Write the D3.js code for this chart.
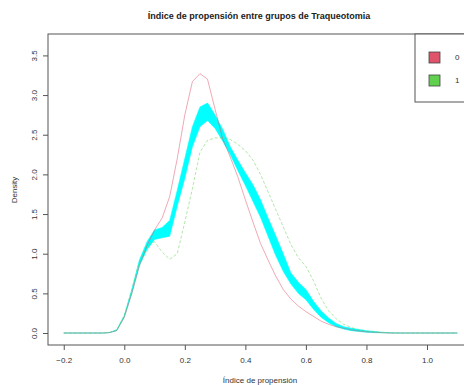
<!DOCTYPE html>
<html>
<head>
<meta charset="utf-8">
<script src="https://cdn.jsdelivr.net/npm/d3@7"></script>
<style>
  body { margin: 0; background: #fff; }
  svg { font-family: "Liberation Sans", Arial, sans-serif; }
</style>
</head>
<body>
<div id="chart"></div>
<script>
// puntos de evaluacion de la densidad (paso 0.025)
const evalPoints = d3.range(53).map(i => +(-0.2 + i * 0.025).toFixed(3));

// grupo 0 (rojo, continuo)
const dens0 = [0, 0, 0, 0, 0, 0, 0.005, 0.03, 0.2, 0.5, 0.85, 1.1, 1.3, 1.45, 1.72, 2.2, 2.75,
  3.17, 3.27, 3.2, 2.82, 2.45, 2.22, 1.97, 1.68, 1.4, 1.13, 0.92, 0.72, 0.55, 0.43, 0.34,
  0.27, 0.21, 0.15, 0.11, 0.08, 0.06, 0.04, 0.025, 0.015, 0.01, 0.005, 0, 0, 0, 0, 0, 0, 0, 0, 0, 0];

// grupo 1 (verde, discontinuo)
const dens1 = [0, 0, 0, 0, 0, 0, 0.005, 0.04, 0.22, 0.55, 0.9, 1.1, 1.15, 1.02, 0.93, 1.0, 1.4,
  1.82, 2.28, 2.43, 2.46, 2.46, 2.44, 2.38, 2.3, 2.18, 2.0, 1.78, 1.56, 1.34, 1.12, 0.95,
  0.84, 0.66, 0.44, 0.28, 0.18, 0.11, 0.07, 0.04, 0.025, 0.015, 0.008, 0.004, 0, 0, 0, 0, 0, 0, 0, 0, 0];

// banda de referencia (cian)
const bandUpper = [0, 0, 0, 0, 0, 0, 0.005, 0.04, 0.22, 0.55, 0.92, 1.15, 1.3, 1.33, 1.42, 1.8, 2.2,
  2.6, 2.85, 2.9, 2.75, 2.57, 2.35, 2.18, 2.02, 1.87, 1.68, 1.45, 1.23, 1.0, 0.76, 0.64,
  0.55, 0.4, 0.28, 0.19, 0.12, 0.08, 0.06, 0.045, 0.03, 0.02, 0.01, 0.005, 0, 0, 0, 0, 0, 0, 0, 0, 0];
const bandLower = [0, 0, 0, 0, 0, 0, 0.005, 0.03, 0.2, 0.5, 0.85, 1.05, 1.18, 1.2, 1.22, 1.6, 1.95,
  2.35, 2.6, 2.68, 2.58, 2.42, 2.25, 2.05, 1.86, 1.66, 1.46, 1.22, 0.98, 0.78, 0.62, 0.5,
  0.42, 0.3, 0.2, 0.13, 0.08, 0.05, 0.03, 0.02, 0.01, 0.005, 0.003, 0, 0, 0, 0, 0, 0, 0, 0, 0, 0];

const xTicks = [-0.2, 0.0, 0.2, 0.4, 0.6, 0.8, 1.0];
const yTicks = [0, 0.5, 1, 1.5, 2, 2.5, 3, 3.5];
const groups = ['0', '1'];
const groupColors = ['#DF536B', '#61D04F'];

const width = 464, height = 385;
const margin = { top: 34, right: -9, bottom: 40, left: 48 };

const svg = d3.select('#chart').append('svg')
  .attr('width', width)
  .attr('height', height);

const x = d3.scaleLinear()
  .domain([-0.252, 1.152])
  .range([margin.left, width - margin.right]);

const y = d3.scaleLinear()
  .domain([-0.151, 3.77])
  .range([height - margin.bottom, margin.top]);

// banda
const band = evalPoints.map((p, i) => ({ p, lo: bandLower[i], hi: bandUpper[i] }));
svg.append('path')
  .datum(band)
  .attr('fill', '#00FFFF')
  .attr('stroke', '#00FFFF')
  .attr('stroke-width', 0.6)
  .attr('d', d3.area().x(d => x(d.p)).y0(d => y(d.lo)).y1(d => y(d.hi)));

// lineas de densidad
const line = d3.line().x(d => x(d[0])).y(d => y(d[1]));

svg.append('path')
  .datum(evalPoints.map((p, i) => [p, dens0[i]]))
  .attr('fill', 'none')
  .attr('stroke', groupColors[0])
  .attr('stroke-opacity', 0.5)
  .attr('stroke-width', 1)
  .attr('d', line);

svg.append('path')
  .datum(evalPoints.map((p, i) => [p, dens1[i]]))
  .attr('fill', 'none')
  .attr('stroke', groupColors[1])
  .attr('stroke-opacity', 0.5)
  .attr('stroke-width', 1)
  .attr('stroke-dasharray', '3,2')
  .attr('d', line);

// ejes
const xAxis = svg.append('g')
  .attr('transform', `translate(0,${height - margin.bottom})`)
  .call(d3.axisBottom(x).tickValues(xTicks).tickFormat(d3.format('.1f')).tickSize(5).tickSizeOuter(0));

const yAxis = svg.append('g')
  .attr('transform', `translate(${margin.left},0)`)
  .call(d3.axisLeft(y).tickValues(yTicks).tickFormat(d3.format('.1f')).tickSize(5).tickSizeOuter(0));

[xAxis, yAxis].forEach(a => {
  a.select('.domain').remove();
  a.selectAll('line').attr('stroke', '#555');
  a.selectAll('text').attr('fill', '#333').style('font-size', '8px');
});
xAxis.selectAll('text').attr('dy', '1.25em');
yAxis.selectAll('text')
  .attr('text-anchor', 'middle')
  .attr('x', 0)
  .attr('y', 0)
  .attr('dy', '0.32em')
  .attr('transform', 'translate(-14,0) rotate(-90)');

// caja del grafico
svg.append('rect')
  .attr('x', margin.left)
  .attr('y', margin.top)
  .attr('width', x.range()[1] - margin.left)
  .attr('height', y.range()[0] - margin.top)
  .attr('fill', 'none')
  .attr('stroke', '#555');

// titulos
svg.append('text')
  .attr('x', 259)
  .attr('y', 19)
  .attr('text-anchor', 'middle')
  .style('font-size', '9px')
  .style('font-weight', 'bold')
  .attr('fill', '#222')
  .text('Índice de propensión entre grupos de Traqueotomia');

svg.append('text')
  .attr('x', 260)
  .attr('y', 383)
  .attr('text-anchor', 'middle')
  .style('font-size', '8px')
  .attr('fill', '#333')
  .text('Índice de propensión');

svg.append('text')
  .attr('transform', 'translate(17,190) rotate(-90)')
  .attr('text-anchor', 'middle')
  .style('font-size', '8px')
  .attr('fill', '#333')
  .text('Density');

// leyenda
const legend = svg.append('g');
legend.append('rect')
  .attr('x', 415).attr('y', 34)
  .attr('width', 70).attr('height', 68)
  .attr('fill', '#fff')
  .attr('stroke', '#555');

groups.forEach((g, i) => {
  legend.append('rect')
    .attr('x', 429).attr('y', 52 + i * 23)
    .attr('width', 11).attr('height', 11)
    .attr('fill', groupColors[i])
    .attr('stroke', '#444')
    .attr('stroke-width', 0.8);
  legend.append('text')
    .attr('x', 455).attr('y', 57.5 + i * 23)
    .attr('dy', '0.35em')
    .style('font-size', '8px')
    .attr('fill', '#333')
    .text(g);
});
</script>
</body>
</html>
